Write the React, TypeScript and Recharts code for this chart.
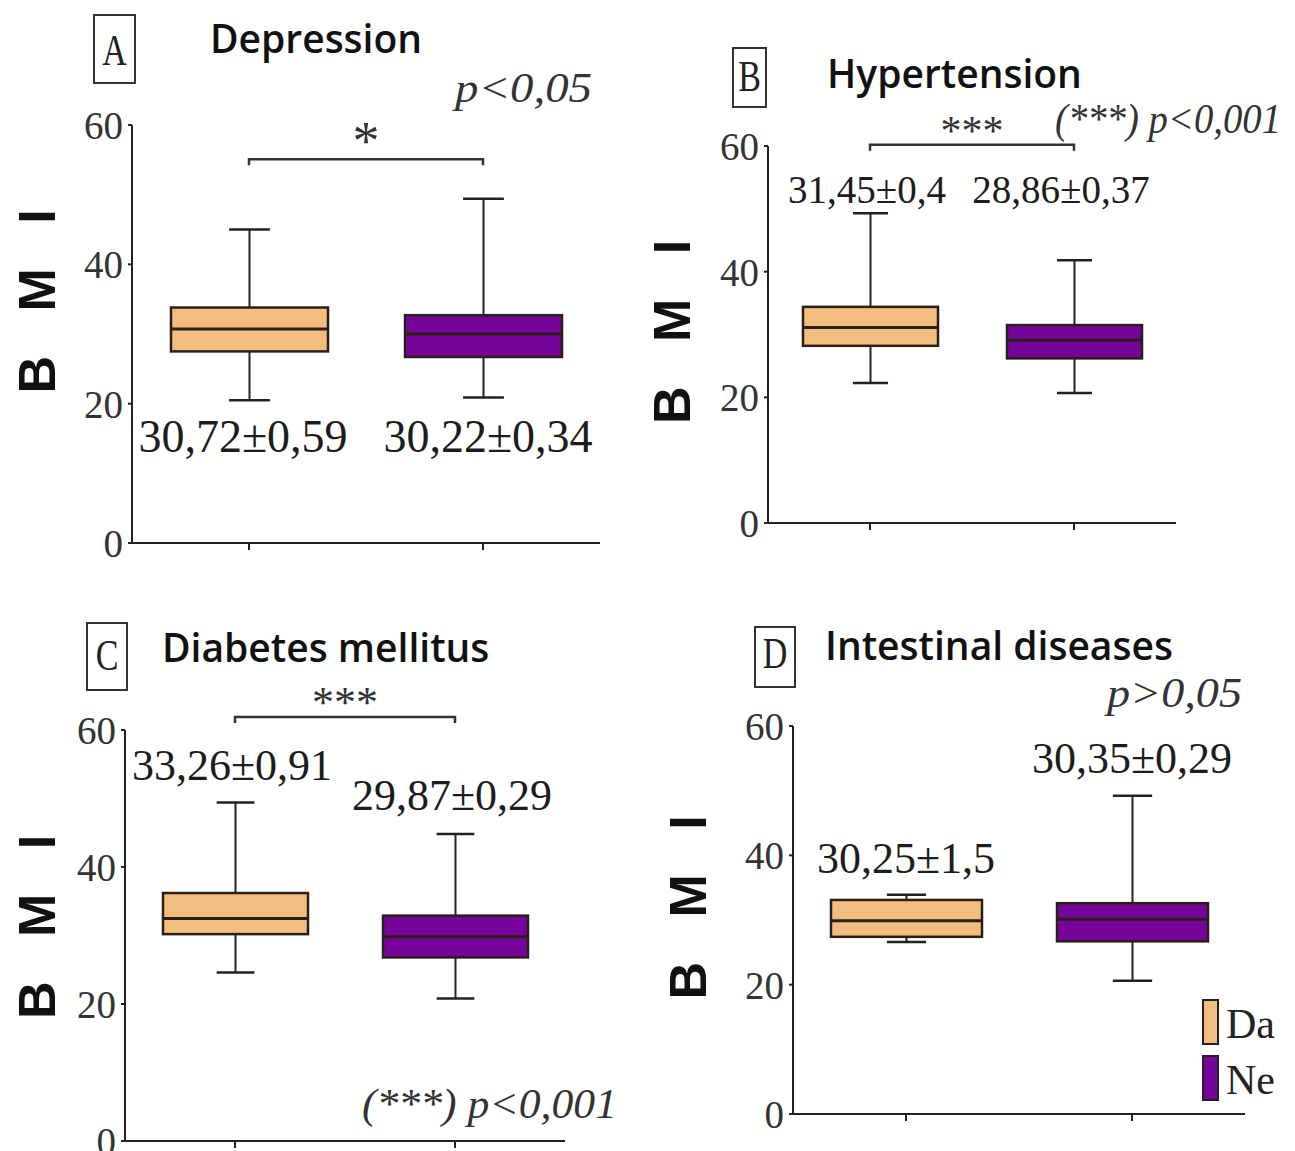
import React from "react";
import {
  ComposedChart,
  Bar,
  XAxis,
  YAxis,
  ReferenceLine,
  ReferenceDot,
  Legend,
} from "recharts";

// groups and their colours
const GROUPS = ["Da", "Ne"];
const GROUP_COLORS: Record<string, string> = { Da: "#F4BD80", Ne: "#77049A" };
const Y_TICKS = [0, 20, 40, 60];

// five-number summaries: [min, q1, median, q3, max]
const depressionDa = [20.5, 27.5, 30.7, 33.8, 45.0];
const depressionNe = [20.9, 26.7, 30.0, 32.7, 49.4];
const hypertensionDa = [22.3, 28.2, 31.1, 34.4, 49.3];
const hypertensionNe = [20.7, 26.2, 29.1, 31.5, 41.8];
const diabetesDa = [24.6, 30.2, 32.5, 36.2, 49.4];
const diabetesNe = [20.8, 26.8, 29.8, 32.9, 44.8];
const intestinalDa = [26.6, 27.4, 29.9, 33.1, 33.9];
const intestinalNe = [20.6, 26.7, 30.1, 32.6, 49.2];

// mean ± SE texts
const depressionMeans = ["30,72±0,59", "30,22±0,34"];
const hypertensionMeans = ["31,45±0,4", "28,86±0,37"];
const diabetesMeans = ["33,26±0,91", "29,87±0,29"];
const intestinalMeans = ["30,25±1,5", "30,35±0,29"];

const buildRows = (stats: number[][]) =>
  GROUPS.map((g, i) => {
    const [min, q1, median, q3, max] = stats[i];
    return { group: g, min, q1, median, q3, max, range: [min, max] };
  });

const SERIF = "'Liberation Serif', 'Times New Roman', serif";
const SANS = "'Open Sans', 'Noto Sans', sans-serif";
const EDGE = "#2a1f18";

const BoxShape = (props: any) => {
  const { x, y, width, height } = props;
  const d = props.payload ?? props;
  const top = Math.min(y, y + height);
  const h = Math.abs(height);
  const ppu = h / (d.max - d.min);
  const py = (v: number) => top + (d.max - v) * ppu;
  const cx = x + width / 2;
  const cap = width * 0.26;
  return (
    <g>
      <line x1={cx} x2={cx} y1={py(d.max)} y2={py(d.q3)} stroke="#222" strokeWidth={2} />
      <line x1={cx} x2={cx} y1={py(d.q1)} y2={py(d.min)} stroke="#222" strokeWidth={2} />
      <line x1={cx - cap / 2} x2={cx + cap / 2} y1={py(d.max)} y2={py(d.max)} stroke="#222" strokeWidth={2.5} />
      <line x1={cx - cap / 2} x2={cx + cap / 2} y1={py(d.min)} y2={py(d.min)} stroke="#222" strokeWidth={2.5} />
      <rect
        x={x}
        y={py(d.q3)}
        width={width}
        height={py(d.q1) - py(d.q3)}
        fill={GROUP_COLORS[d.group]}
        stroke={EDGE}
        strokeWidth={2.5}
      />
      <line x1={x} x2={x + width} y1={py(d.median)} y2={py(d.median)} stroke={EDGE} strokeWidth={3} />
    </g>
  );
};

const MeanLabel = ({ viewBox, text, dx, size }: any) => {
  if (!viewBox) return null;
  return (
    <text
      x={viewBox.x + viewBox.width / 2 + dx}
      y={viewBox.y + viewBox.height / 2}
      textAnchor="middle"
      fontFamily={SERIF}
      fontSize={size}
      fill="#1c1c1c"
    >
      {text}
    </text>
  );
};

const BmiLabel = ({ viewBox, dx, dy }: any) => {
  if (!viewBox) return null;
  const x = viewBox.x + viewBox.width + dx;
  const y = viewBox.y + viewBox.height / 2 + dy;
  return (
    <text
      transform={`translate(${x},${y}) rotate(-90)`}
      textAnchor="middle"
      fontFamily="'Liberation Sans', Arial, sans-serif"
      fontWeight={700}
      fontSize={52}
      letterSpacing={15}
      fill="#111"
    >
      B M I
    </text>
  );
};

const bracketShape = (props: any) => {
  const { x1, y1, x2 } = props;
  return (
    <path
      d={`M${x1},${y1 + 6} V${y1} H${x2} V${y1 + 6}`}
      fill="none"
      stroke="#333"
      strokeWidth={2.5}
    />
  );
};

const LegendBox = () => (
  <div style={{ display: "flex", flexDirection: "column", gap: 10 }}>
    {GROUPS.map((g) => (
      <div key={g} style={{ display: "flex", alignItems: "flex-end", height: 46 }}>
        <div
          style={{
            width: 17,
            height: 46,
            boxSizing: "border-box",
            border: "2px solid #222",
            background: GROUP_COLORS[g],
          }}
        />
        <span style={{ fontFamily: SERIF, fontSize: 42, lineHeight: 1, marginLeft: 7, color: "#222" }}>{g}</span>
      </div>
    ))}
  </div>
);

interface Panel {
  key: string;
  rows: any[];
  means: string[];
  meanSize: number;
  labelY: number[];
  labelDx: number[];
  bracketY?: number;
  stars?: string;
  starSize?: number;
  box: { left: number; top: number; width: number; height: number };
  plot: { left: number; top: number; right: number; bottom: number };
  xAxisHeight: number;
  barSize: number;
  bmi: { dx: number; dy: number };
  legend?: boolean;
}

const PANELS: Panel[] = [
  {
    key: "A",
    rows: buildRows([depressionDa, depressionNe]),
    means: depressionMeans,
    meanSize: 46,
    labelY: [13.1, 13.1],
    labelDx: [-6, 5],
    bracketY: 55.1,
    stars: "*",
    starSize: 54,
    box: { left: 0, top: 100, width: 640, height: 480 },
    plot: { left: 132, top: 125, right: 600, bottom: 543 },
    xAxisHeight: 30,
    barSize: 157,
    bmi: { dx: -77, dy: -40 },
  },
  {
    key: "B",
    rows: buildRows([hypertensionDa, hypertensionNe]),
    means: hypertensionMeans,
    meanSize: 39,
    labelY: [50.9, 50.9],
    labelDx: [-3, -13],
    bracketY: 60.2,
    stars: "***",
    starSize: 42,
    box: { left: 640, top: 100, width: 650, height: 460 },
    plot: { left: 768, top: 146, right: 1176, bottom: 523 },
    xAxisHeight: 30,
    barSize: 135,
    bmi: { dx: -78, dy: -10 },
  },
  {
    key: "C",
    rows: buildRows([diabetesDa, diabetesNe]),
    means: diabetesMeans,
    meanSize: 44,
    labelY: [52.7, 48.3],
    labelDx: [-3, -3],
    bracketY: 61.9,
    stars: "***",
    starSize: 44,
    box: { left: 0, top: 670, width: 640, height: 481 },
    plot: { left: 125, top: 730, right: 565, bottom: 1141 },
    xAxisHeight: 10,
    barSize: 145,
    bmi: { dx: -70, dy: -16 },
  },
  {
    key: "D",
    rows: buildRows([intestinalDa, intestinalNe]),
    means: intestinalMeans,
    meanSize: 44,
    labelY: [37.3, 52.7],
    labelDx: [0, 0],
    box: { left: 650, top: 700, width: 645, height: 440 },
    plot: { left: 793, top: 726, right: 1245, bottom: 1114 },
    xAxisHeight: 20,
    barSize: 151,
    bmi: { dx: -87, dy: -20 },
    legend: true,
  },
];

const Y_AXIS_WIDTH = 60;

function BoxPanel({ p }: { p: Panel }) {
  const margin = {
    left: p.plot.left - p.box.left - Y_AXIS_WIDTH,
    right: p.box.left + p.box.width - p.plot.right,
    top: p.plot.top - p.box.top,
    bottom: p.box.top + p.box.height - p.plot.bottom - p.xAxisHeight,
  };
  return (
    <div style={{ position: "absolute", left: p.box.left, top: p.box.top }}>
      <ComposedChart width={p.box.width} height={p.box.height} data={p.rows} margin={margin}>
        <XAxis
          dataKey="group"
          height={p.xAxisHeight}
          tickFormatter={() => ""}
          axisLine={{ stroke: "#222", strokeWidth: 2 }}
          tickLine={{ stroke: "#222", strokeWidth: 2 }}
          tickSize={7}
        />
        <YAxis
          width={Y_AXIS_WIDTH}
          domain={[0, 60]}
          ticks={Y_TICKS}
          interval={0}
          axisLine={{ stroke: "#222", strokeWidth: 2 }}
          tickLine={{ stroke: "#222", strokeWidth: 2 }}
          tickSize={4}
          tickMargin={5}
          tick={{ fontSize: 39, fontFamily: SERIF, fill: "#333" }}
          label={<BmiLabel dx={p.bmi.dx} dy={p.bmi.dy} />}
        />
        <Bar dataKey="range" barSize={p.barSize} shape={BoxShape} isAnimationActive={false} />
        {p.bracketY !== undefined && (
          <ReferenceLine
            segment={[
              { x: GROUPS[0], y: p.bracketY },
              { x: GROUPS[1], y: p.bracketY },
            ]}
            ifOverflow="visible"
            shape={bracketShape}
            label={{
              value: p.stars,
              position: "top",
              offset: 0,
              fill: "#333",
              fontSize: p.starSize,
              fontFamily: SERIF,
            }}
          />
        )}
        {GROUPS.map((g, i) => (
          <ReferenceDot
            key={g}
            x={g}
            y={p.labelY[i]}
            r={0}
            fill="none"
            stroke="none"
            ifOverflow="visible"
            label={<MeanLabel text={p.means[i]} dx={p.labelDx[i]} size={p.meanSize} />}
          />
        ))}
        {p.legend && (
          <Legend
            layout="horizontal"
            align="center"
            verticalAlign="middle"
            wrapperStyle={{ left: 552, top: 299, width: "auto", height: "auto" }}
            content={() => <LegendBox />}
          />
        )}
      </ComposedChart>
    </div>
  );
}

// panel headings: letter boxes, titles, significance notes
const HEADINGS = [
  { letter: "A", box: [94, 15, 41, 68], letterBase: 65, title: "Depression", titleX: 210, titleBase: 53, p: "p<0,05", pX: 455, pBase: 102, pLen: 137 },
  { letter: "B", box: [733, 48, 33, 59], letterBase: 91, title: "Hypertension", titleX: 827, titleBase: 88, p: "(***) p<0,001", pX: 1055, pBase: 133, pLen: 226 },
  { letter: "C", box: [87, 623, 40, 67], letterBase: 670, title: "Diabetes mellitus", titleX: 162, titleBase: 662, p: "(***) p<0,001", pX: 362, pBase: 1118, pLen: 255 },
  { letter: "D", box: [755, 627, 40, 60], letterBase: 668, title: "Intestinal diseases", titleX: 825, titleBase: 660, p: "p>0,05", pX: 1107, pBase: 707, pLen: 135 },
];

export default function App() {
  return (
    <div style={{ position: "absolute", left: 0, top: 0, width: 1295, height: 1151, background: "#fff", overflow: "hidden" }}>
      {PANELS.map((p) => (
        <BoxPanel key={p.key} p={p} />
      ))}
      <svg width={1295} height={1151} style={{ position: "absolute", left: 0, top: 0, pointerEvents: "none" }}>
        {HEADINGS.map((h) => (
          <g key={h.letter}>
            <rect x={h.box[0]} y={h.box[1]} width={h.box[2]} height={h.box[3]} fill="none" stroke="#333" strokeWidth={2} />
            <text
              transform={`translate(${h.box[0] + h.box[2] / 2},${h.letterBase}) scale(1,1.3)`}
              textAnchor="middle"
              fontFamily={SERIF}
              fontSize={34}
              fill="#222"
            >
              {h.letter}
            </text>
            <text x={h.titleX} y={h.titleBase} fontFamily={SANS} fontWeight={600} fontSize={39} fill="#111">
              {h.title}
            </text>
            <text
              x={h.pX}
              y={h.pBase}
              fontFamily={SERIF}
              fontStyle="italic"
              fontSize={42}
              textLength={h.pLen}
              lengthAdjust="spacingAndGlyphs"
              fill="#333"
            >
              {h.p}
            </text>
          </g>
        ))}
      </svg>
    </div>
  );
}
